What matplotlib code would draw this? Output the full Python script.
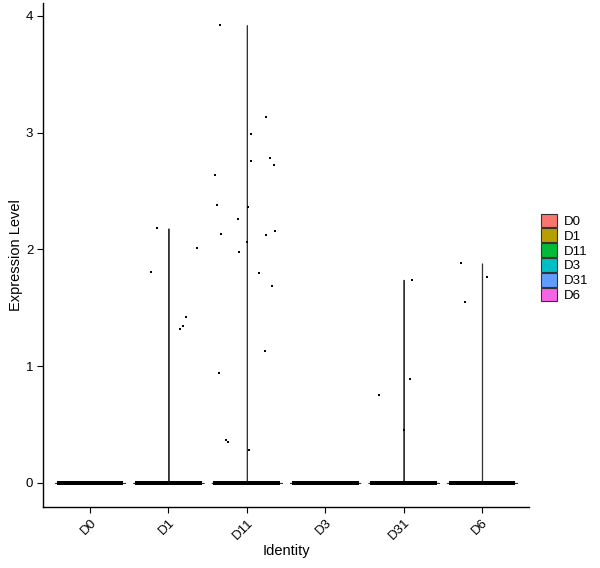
import numpy as np
import matplotlib
matplotlib.use('Agg')
import matplotlib.pyplot as plt
from matplotlib.patches import Patch

plt.rcParams['font.family'] = ['Liberation Sans', 'DejaVu Sans']

# groups and ggplot default hue colours
groups = ['D0', 'D1', 'D11', 'D3', 'D31', 'D6']
colors = ['#F8766D', '#B79F00', '#00BA38', '#00BFC4', '#619CFF', '#F564E3']

# non-zero expression values per group (all other cells are 0)
vals_d0 = []
vals_d1 = [2.18, 1.81, 1.42, 1.34, 1.32, 2.01]
vals_d11 = [3.92, 3.13, 2.99, 2.76, 2.78, 2.72, 2.64, 2.38, 2.36, 2.26, 2.16,
            2.13, 2.12, 2.06, 1.98, 1.80, 1.69, 1.13, 0.94, 0.37, 0.35, 0.28]
vals_d3 = []
vals_d31 = [1.74, 0.89, 0.75, 0.45]
vals_d6 = [1.88, 1.76, 1.55]
nonzero = [vals_d0, vals_d1, vals_d11, vals_d3, vals_d31, vals_d6]

# jitter offsets of the points as drawn
jit_d1 = [-0.15, -0.22, 0.22, 0.19, 0.15, 0.37]
jit_d11 = [-0.34, 0.24, 0.05, 0.05, 0.29, 0.35, -0.40, -0.38, 0.02, -0.11, 0.36,
           -0.33, 0.25, 0.00, -0.10, 0.16, 0.32, 0.23, -0.35, -0.26, -0.24, 0.03]
jit_d31 = [0.11, 0.08, -0.32, 0.00]
jit_d6 = [-0.27, 0.07, -0.22]
jitters = [[], jit_d1, jit_d11, [], jit_d31, jit_d6]


def main():
    fig = plt.figure(figsize=(6.0, 5.68), dpi=100)
    ax = fig.add_axes([0.0717, 0.1074, 0.81, 0.8873])

    for i, (g, v, jit, c) in enumerate(zip(groups, nonzero, jitters, colors)):
        x = i + 1
        # violin: collapsed at zero, thin tail up to the max
        vmax = max(v) if len(v) else 0.0
        ax.fill_betweenx([0, 0.004, vmax], [x - 0.45, x - 0.002, x - 0.002],
                         [x + 0.45, x + 0.002, x + 0.002],
                         facecolor=c, edgecolor='#333333', lw=0.7, zorder=2)
        # cells at zero
        zx = x + np.linspace(-0.4, 0.4, 200)
        ax.scatter(zx, np.zeros_like(zx), s=6, c='black', marker='s', lw=0, zorder=3)
        if len(v):
            ax.scatter(x + np.array(jit), v, s=4, c='black', marker='s', lw=0, zorder=3)

    ax.set_xlim(0.4, 6.6)
    ax.set_ylim(-0.206, 4.11)
    ax.set_xticks(range(1, len(groups) + 1))
    ax.set_xticklabels(groups, rotation=45, ha='right', va='top',
                       rotation_mode='anchor', fontsize=9.5)
    ax.set_yticks([0, 1, 2, 3, 4])
    ax.set_yticklabels(['0', '1', '2', '3', '4'], fontsize=9.5)
    ax.tick_params(direction='out', length=4, width=0.8, colors='black', pad=3)
    for s in ['top', 'right']:
        ax.spines[s].set_visible(False)
    for s in ['left', 'bottom']:
        ax.spines[s].set_linewidth(1.0)
    ax.set_xlabel('Identity', fontsize=10.5, labelpad=1)
    ax.set_ylabel('Expression Level', fontsize=10.5, labelpad=2)

    handles = [Patch(facecolor=c, edgecolor='#333333', lw=0.8) for c in colors]
    fig.legend(handles, groups, loc='center left', bbox_to_anchor=(0.902, 0.546),
               frameon=False, fontsize=9.5, handlelength=1.2, handleheight=1.2,
               labelspacing=0.05, handletextpad=0.5, borderpad=0, borderaxespad=0)

    fig.savefig('out.png', dpi=100)


if __name__ == '__main__':
    main()
